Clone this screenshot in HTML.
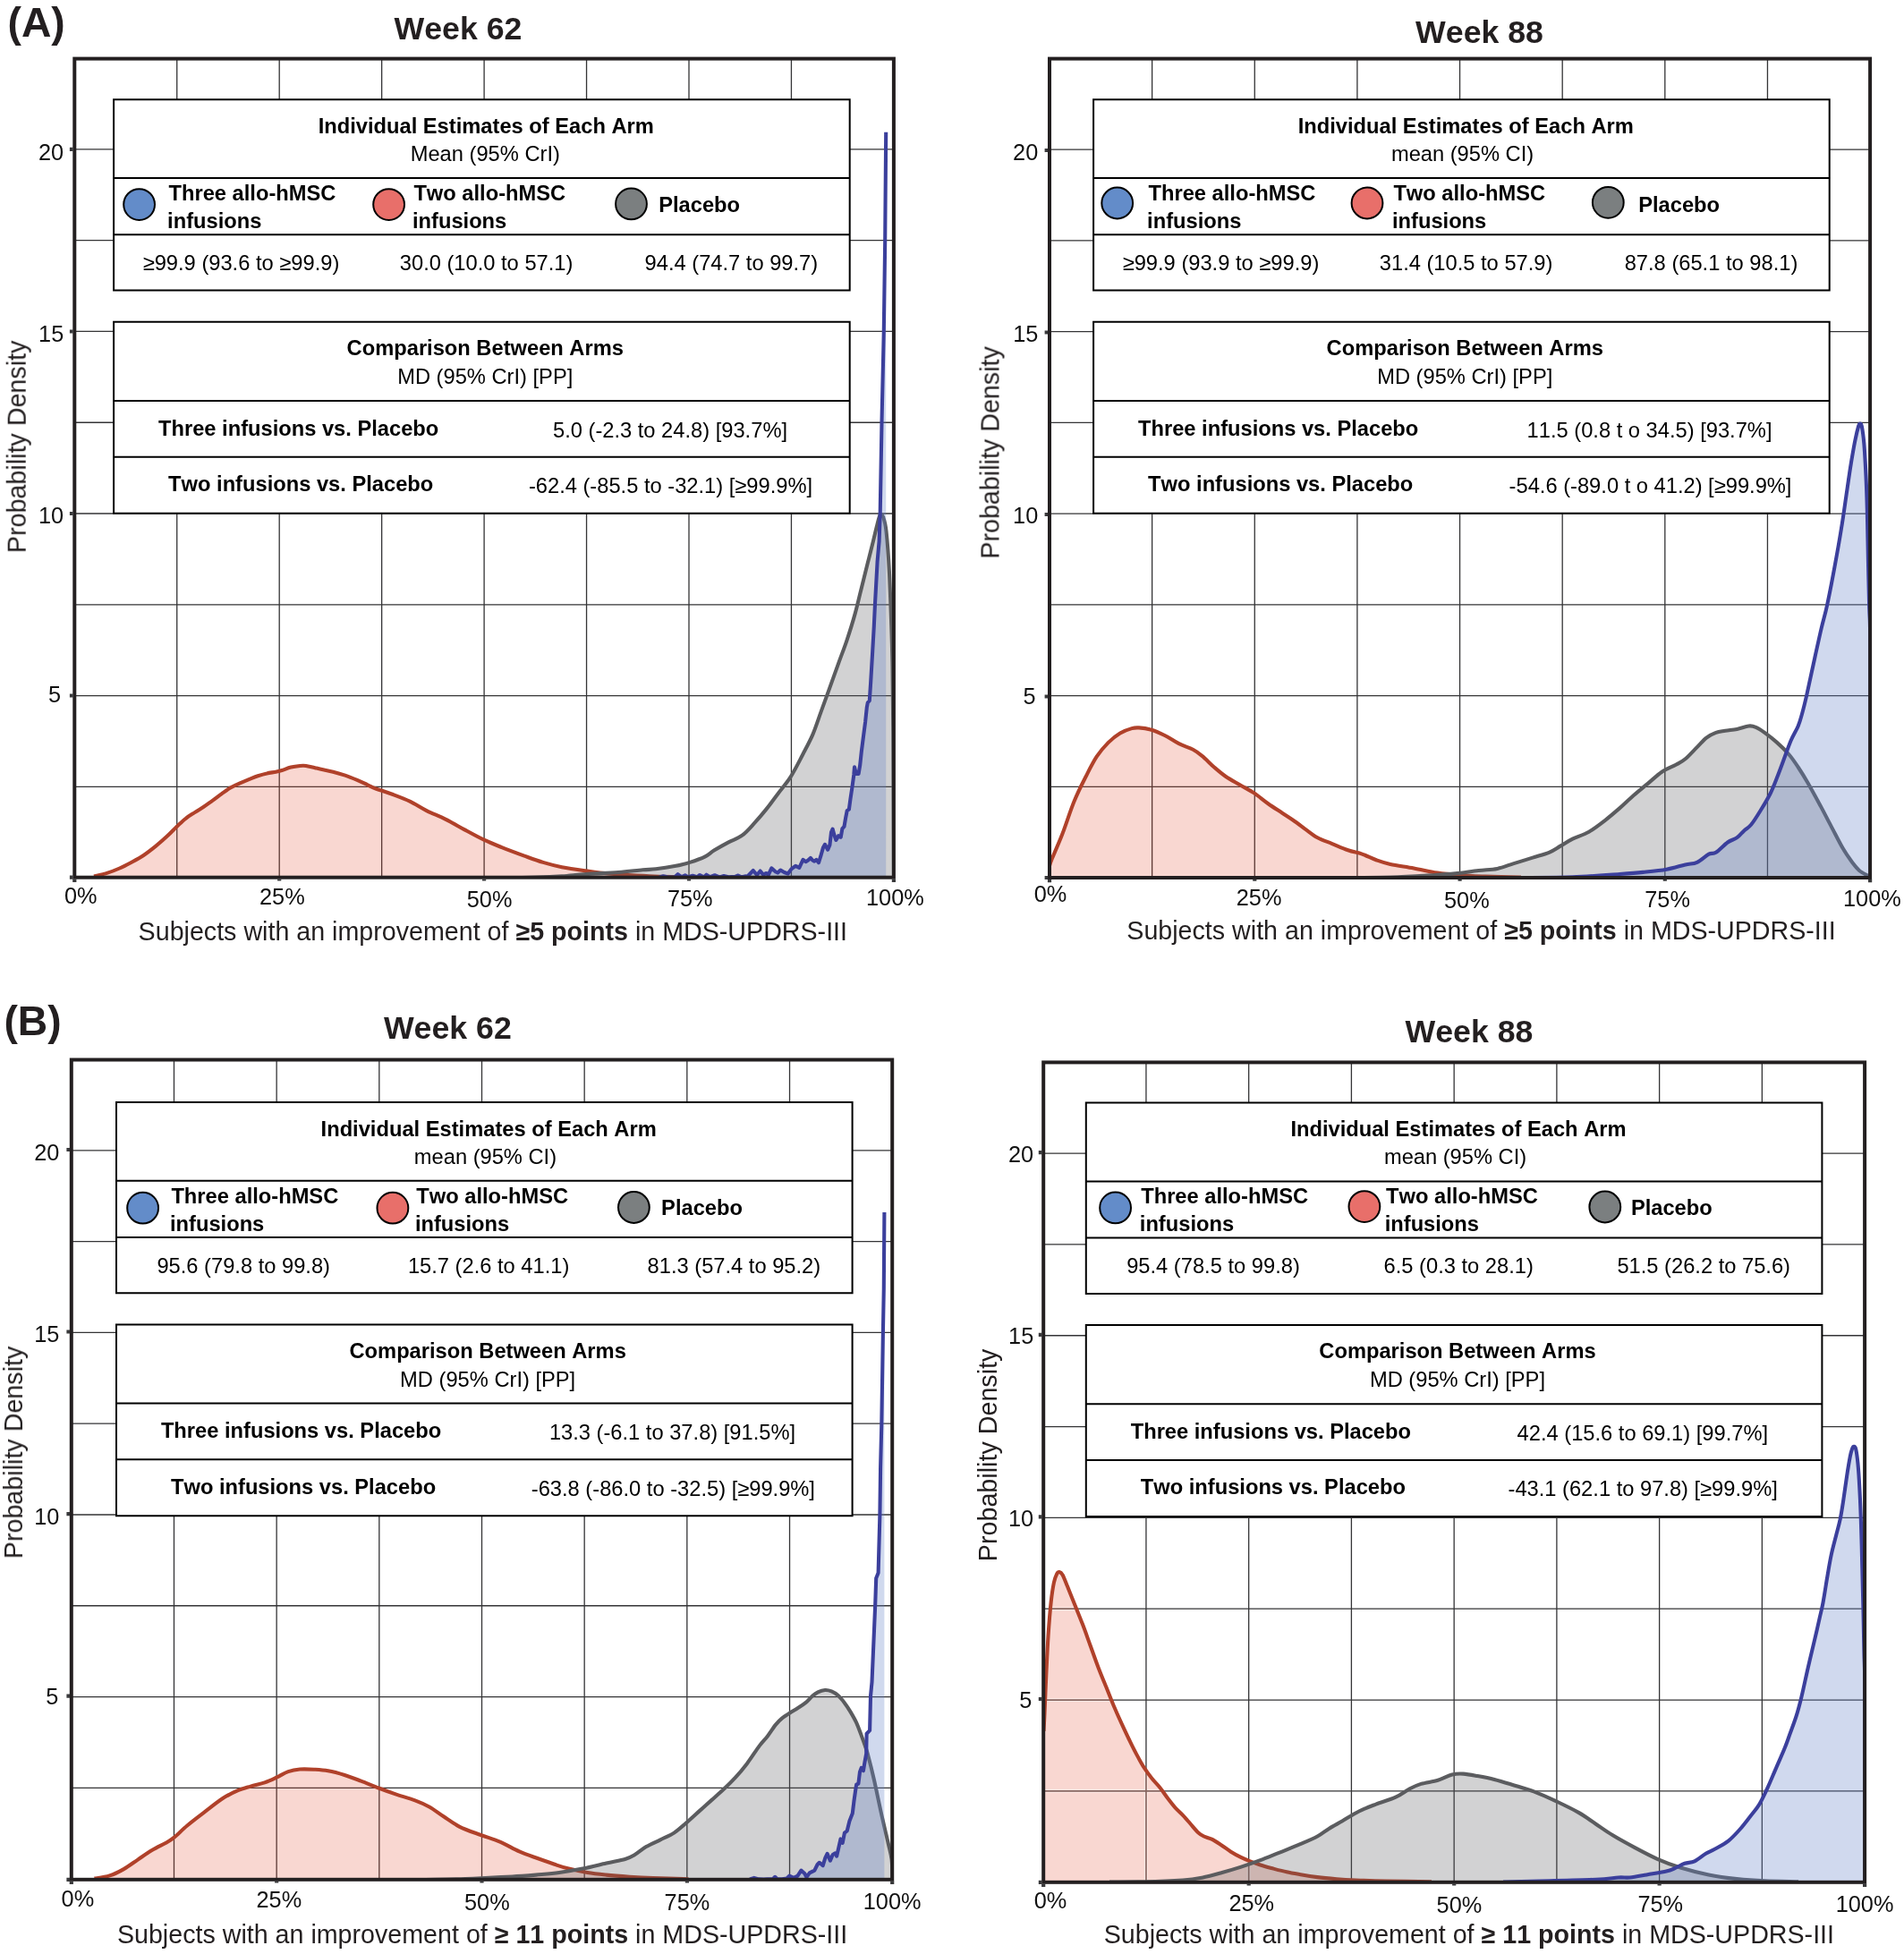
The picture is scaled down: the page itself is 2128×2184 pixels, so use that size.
<!DOCTYPE html>
<html><head><meta charset="utf-8"><title>Figure</title>
<style>html,body{margin:0;padding:0;background:#fff}body{width:2128px;height:2184px;overflow:hidden}svg{display:block}text{font-family:"Liberation Sans",sans-serif;white-space:pre;font-kerning:none}.b{font-weight:700}</style>
</head><body>
<svg width="2128" height="2184" viewBox="0 0 2128 2184">
<rect width="2128" height="2184" fill="#fff"/>
<g>
<clipPath id="cAL"><rect x="83.3" y="65.6" width="915.6" height="915.1"/></clipPath>
<path d="M197.75,65.6V980.7M312.20,65.6V980.7M426.65,65.6V980.7M541.10,65.6V980.7M655.55,65.6V980.7M770.00,65.6V980.7M884.45,65.6V980.7M83.3,879.33H998.9M83.3,777.55H998.9M83.3,675.78H998.9M83.3,574.00H998.9M83.3,472.23H998.9M83.3,370.45H998.9M83.3,268.67H998.9M83.3,166.90H998.9" stroke="#343436" stroke-width="1.3" fill="none"/>
<g clip-path="url(#cAL)" stroke-width="4.1" stroke-linejoin="round" stroke-linecap="butt">
<path d="M105.0,979.4C107.5,978.8 115.4,977.1 120.2,975.6C125.0,974.1 129.1,972.5 133.6,970.5C138.1,968.5 142.6,966.1 147.1,963.7C151.6,961.3 156.0,959.0 160.5,956.0C165.0,953.0 169.4,949.5 173.9,945.9C178.4,942.2 183.5,937.8 187.4,934.1C191.3,930.5 194.1,927.2 197.5,924.0C200.9,920.8 204.2,917.4 207.6,914.8C210.9,912.1 214.2,910.3 217.6,908.1C220.9,905.9 224.3,904.0 227.7,901.8C231.1,899.5 234.4,897.0 237.8,894.6C241.2,892.2 244.5,889.5 247.9,887.1C251.3,884.7 254.6,882.3 258.0,880.3C261.4,878.3 264.7,876.8 268.1,875.3C271.5,873.8 274.9,872.5 278.2,871.1C281.5,869.8 284.8,868.3 288.2,867.2C291.6,866.1 294.9,865.1 298.3,864.4C301.7,863.6 305.6,863.3 308.4,862.7C311.2,862.1 312.3,861.9 315.1,861.0C317.9,860.1 321.8,858.4 325.2,857.6C328.6,856.8 332.5,856.3 335.3,856.0C338.1,855.7 339.2,855.6 342.0,856.0C344.8,856.4 348.7,857.5 352.1,858.2C355.5,859.0 358.8,859.8 362.2,860.5C365.6,861.2 368.4,861.7 372.3,862.7C376.2,863.7 381.2,865.1 385.7,866.6C390.2,868.1 395.0,870.1 399.2,871.9C403.4,873.7 407.4,875.7 410.9,877.3C414.4,878.9 415.6,879.9 420.0,881.5C424.4,883.1 430.7,884.9 437.0,887.2C443.3,889.6 451.4,892.5 458.0,895.6C464.6,898.8 470.2,902.8 476.8,906.1C483.4,909.4 490.8,912.1 497.8,915.6C504.8,919.1 511.6,923.2 518.8,927.1C526.0,931.0 533.9,935.4 540.9,938.7C547.9,942.0 553.3,944.1 560.8,947.1C568.3,950.1 578.3,953.8 586.0,956.6C593.7,959.4 600.0,961.8 607.0,963.9C614.0,966.0 619.9,967.6 628.0,969.2C636.1,970.8 646.6,972.2 655.4,973.4C664.2,974.6 671.2,975.6 680.6,976.5C690.0,977.4 702.6,978.1 712.0,978.6C721.4,979.1 727.3,979.4 737.0,979.7C746.7,980.0 764.5,980.4 770.0,980.5 L770.0,980.7 L105.0,980.7 Z" fill="rgba(228,72,44,0.22)" stroke="none"/>
<path d="M105.0,979.4C107.5,978.8 115.4,977.1 120.2,975.6C125.0,974.1 129.1,972.5 133.6,970.5C138.1,968.5 142.6,966.1 147.1,963.7C151.6,961.3 156.0,959.0 160.5,956.0C165.0,953.0 169.4,949.5 173.9,945.9C178.4,942.2 183.5,937.8 187.4,934.1C191.3,930.5 194.1,927.2 197.5,924.0C200.9,920.8 204.2,917.4 207.6,914.8C210.9,912.1 214.2,910.3 217.6,908.1C220.9,905.9 224.3,904.0 227.7,901.8C231.1,899.5 234.4,897.0 237.8,894.6C241.2,892.2 244.5,889.5 247.9,887.1C251.3,884.7 254.6,882.3 258.0,880.3C261.4,878.3 264.7,876.8 268.1,875.3C271.5,873.8 274.9,872.5 278.2,871.1C281.5,869.8 284.8,868.3 288.2,867.2C291.6,866.1 294.9,865.1 298.3,864.4C301.7,863.6 305.6,863.3 308.4,862.7C311.2,862.1 312.3,861.9 315.1,861.0C317.9,860.1 321.8,858.4 325.2,857.6C328.6,856.8 332.5,856.3 335.3,856.0C338.1,855.7 339.2,855.6 342.0,856.0C344.8,856.4 348.7,857.5 352.1,858.2C355.5,859.0 358.8,859.8 362.2,860.5C365.6,861.2 368.4,861.7 372.3,862.7C376.2,863.7 381.2,865.1 385.7,866.6C390.2,868.1 395.0,870.1 399.2,871.9C403.4,873.7 407.4,875.7 410.9,877.3C414.4,878.9 415.6,879.9 420.0,881.5C424.4,883.1 430.7,884.9 437.0,887.2C443.3,889.6 451.4,892.5 458.0,895.6C464.6,898.8 470.2,902.8 476.8,906.1C483.4,909.4 490.8,912.1 497.8,915.6C504.8,919.1 511.6,923.2 518.8,927.1C526.0,931.0 533.9,935.4 540.9,938.7C547.9,942.0 553.3,944.1 560.8,947.1C568.3,950.1 578.3,953.8 586.0,956.6C593.7,959.4 600.0,961.8 607.0,963.9C614.0,966.0 619.9,967.6 628.0,969.2C636.1,970.8 646.6,972.2 655.4,973.4C664.2,974.6 671.2,975.6 680.6,976.5C690.0,977.4 702.6,978.1 712.0,978.6C721.4,979.1 727.3,979.4 737.0,979.7C746.7,980.0 764.5,980.4 770.0,980.5" fill="none" stroke="#b0412a"/>
<path d="M540.0,981.6C544.2,981.5 555.0,981.5 565.0,981.3C575.0,981.1 589.5,980.9 600.0,980.6C610.5,980.3 618.8,979.9 628.0,979.3C637.2,978.7 644.5,977.7 655.0,977.0C665.5,976.3 680.4,975.8 691.0,975.0C701.6,974.2 711.4,972.9 718.4,972.3C725.4,971.7 727.1,972.0 733.0,971.3C738.9,970.6 747.7,969.3 754.0,968.1C760.3,966.9 765.4,965.6 771.0,963.9C776.6,962.1 783.2,959.8 787.7,957.6C792.2,955.4 793.6,953.3 798.0,950.6C802.4,947.9 808.5,944.4 813.8,941.6C819.0,938.8 824.6,937.3 829.5,933.7C834.4,930.1 838.5,925.1 843.0,920.2C847.5,915.3 852.0,910.0 856.5,904.4C861.0,898.8 865.5,892.4 870.0,886.4C874.5,880.4 879.1,875.5 883.6,868.4C888.1,861.3 892.9,851.6 897.0,843.7C901.1,835.8 904.9,829.0 908.3,821.1C911.7,813.2 914.3,804.6 917.3,796.4C920.3,788.1 922.9,781.0 926.3,771.6C929.7,762.2 934.2,749.5 937.6,740.1C941.0,730.7 943.6,724.3 946.6,715.3C949.6,706.3 953.0,695.5 955.6,686.1C958.2,676.7 960.1,668.0 962.4,659.0C964.6,650.0 966.9,641.0 969.1,632.0C971.4,623.0 974.0,612.7 975.9,605.0C977.8,597.3 979.2,590.9 980.5,586.0C981.8,581.1 982.6,576.9 983.7,575.6C984.8,574.3 986.0,575.0 987.1,578.0C988.2,581.0 989.4,583.7 990.5,593.8C991.6,603.9 993.0,621.9 993.9,638.8C994.8,655.7 995.5,678.1 996.1,695.0C996.7,711.9 997.0,719.2 997.4,740.0C997.8,760.8 998.0,779.8 998.3,820.0C998.5,860.2 998.8,954.2 998.9,981.0 L998.9,980.7 L540.0,980.7 Z" fill="rgba(88,89,91,0.27)" stroke="none"/>
<path d="M540.0,981.6C544.2,981.5 555.0,981.5 565.0,981.3C575.0,981.1 589.5,980.9 600.0,980.6C610.5,980.3 618.8,979.9 628.0,979.3C637.2,978.7 644.5,977.7 655.0,977.0C665.5,976.3 680.4,975.8 691.0,975.0C701.6,974.2 711.4,972.9 718.4,972.3C725.4,971.7 727.1,972.0 733.0,971.3C738.9,970.6 747.7,969.3 754.0,968.1C760.3,966.9 765.4,965.6 771.0,963.9C776.6,962.1 783.2,959.8 787.7,957.6C792.2,955.4 793.6,953.3 798.0,950.6C802.4,947.9 808.5,944.4 813.8,941.6C819.0,938.8 824.6,937.3 829.5,933.7C834.4,930.1 838.5,925.1 843.0,920.2C847.5,915.3 852.0,910.0 856.5,904.4C861.0,898.8 865.5,892.4 870.0,886.4C874.5,880.4 879.1,875.5 883.6,868.4C888.1,861.3 892.9,851.6 897.0,843.7C901.1,835.8 904.9,829.0 908.3,821.1C911.7,813.2 914.3,804.6 917.3,796.4C920.3,788.1 922.9,781.0 926.3,771.6C929.7,762.2 934.2,749.5 937.6,740.1C941.0,730.7 943.6,724.3 946.6,715.3C949.6,706.3 953.0,695.5 955.6,686.1C958.2,676.7 960.1,668.0 962.4,659.0C964.6,650.0 966.9,641.0 969.1,632.0C971.4,623.0 974.0,612.7 975.9,605.0C977.8,597.3 979.2,590.9 980.5,586.0C981.8,581.1 982.6,576.9 983.7,575.6C984.8,574.3 986.0,575.0 987.1,578.0C988.2,581.0 989.4,583.7 990.5,593.8C991.6,603.9 993.0,621.9 993.9,638.8C994.8,655.7 995.5,678.1 996.1,695.0C996.7,711.9 997.0,719.2 997.4,740.0C997.8,760.8 998.0,779.8 998.3,820.0C998.5,860.2 998.8,954.2 998.9,981.0" fill="none" stroke="#5b5c5f"/>
<path d="M737.0,980.5L741.3,979.3L745.8,980.3L748.9,980.6L753.9,980.5L757.5,977.2L761.6,980.2L765.7,978.4L769.0,980.3L774.2,978.8L779.0,980.3L782.1,978.0L786.5,980.4L789.5,977.7L793.7,980.2L798.8,978.2L804.1,980.4L809.0,979.1L814.3,980.2L817.5,980.1L821.0,980.1L825.0,978.5L828.7,980.3L832.7,979.4L835.5,979.5L841.8,973.0L846.0,978.0L849.7,973.5L852.9,977.5L856.6,976.0L858.7,978.0L862.3,970.4L867.0,974.5L869.2,975.5L872.3,972.5L876.5,975.0L880.7,976.5L884.4,971.4L889.1,967.8L893.3,969.9L897.5,960.9L900.5,963.2L903.2,961.5L905.9,958.9L908.1,961.5L910.2,962.6L912.4,961.0L915.0,964.2L917.2,957.2L919.9,947.6L922.0,943.8L925.2,949.7L927.4,944.4L929.0,930.4L930.6,926.6L932.2,932.5L934.4,939.0L937.1,934.2L939.7,935.8L941.4,926.1L943.5,923.9L945.1,914.3L946.7,906.2L948.9,904.6L950.5,892.8L952.6,878.8L954.3,865.9L955.0,857.3L956.9,864.9L959.6,864.9L961.2,855.2L962.8,840.2L965.0,823.0L967.1,806.9L968.8,790.7L969.8,785.4L971.8,783.2L973.2,762.0L975.2,728.0L976.8,700.0L978.1,672.6L980.6,627.5L982.6,605.0L983.7,574.0L985.5,472.0L987.8,370.0L989.2,268.9L990.2,147.8 L990.2,980.7 L737.0,980.7 Z" fill="rgba(100,130,200,0.30)" stroke="none"/>
<path d="M737.0,980.5L741.3,979.3L745.8,980.3L748.9,980.6L753.9,980.5L757.5,977.2L761.6,980.2L765.7,978.4L769.0,980.3L774.2,978.8L779.0,980.3L782.1,978.0L786.5,980.4L789.5,977.7L793.7,980.2L798.8,978.2L804.1,980.4L809.0,979.1L814.3,980.2L817.5,980.1L821.0,980.1L825.0,978.5L828.7,980.3L832.7,979.4L835.5,979.5L841.8,973.0L846.0,978.0L849.7,973.5L852.9,977.5L856.6,976.0L858.7,978.0L862.3,970.4L867.0,974.5L869.2,975.5L872.3,972.5L876.5,975.0L880.7,976.5L884.4,971.4L889.1,967.8L893.3,969.9L897.5,960.9L900.5,963.2L903.2,961.5L905.9,958.9L908.1,961.5L910.2,962.6L912.4,961.0L915.0,964.2L917.2,957.2L919.9,947.6L922.0,943.8L925.2,949.7L927.4,944.4L929.0,930.4L930.6,926.6L932.2,932.5L934.4,939.0L937.1,934.2L939.7,935.8L941.4,926.1L943.5,923.9L945.1,914.3L946.7,906.2L948.9,904.6L950.5,892.8L952.6,878.8L954.3,865.9L955.0,857.3L956.9,864.9L959.6,864.9L961.2,855.2L962.8,840.2L965.0,823.0L967.1,806.9L968.8,790.7L969.8,785.4L971.8,783.2L973.2,762.0L975.2,728.0L976.8,700.0L978.1,672.6L980.6,627.5L982.6,605.0L983.7,574.0L985.5,472.0L987.8,370.0L989.2,268.9L990.2,147.8" fill="none" stroke="#3b3f9c"/>
</g>
<g transform="translate(127.1,111.3)">
<rect x="0" y="0" width="822.6" height="462.4" fill="#fff"/>
<path d="M0,0H822.6V213.3H0ZM0,248.5H822.6V462.4H0ZM0,87.8H822.6M0,151H822.6M0,336.6H822.6M0,399.4H822.6" stroke="#000" stroke-width="2" fill="none"/>
<circle cx="28.5" cy="117.3" r="17.4" fill="#638cc9" stroke="#000" stroke-width="2"/>
<circle cx="307.5" cy="117.3" r="17.4" fill="#e86f6a" stroke="#000" stroke-width="2"/>
<circle cx="578.4" cy="116.6" r="17.4" fill="#7b7f80" stroke="#000" stroke-width="2"/>
</g>
<rect x="83.3" y="65.6" width="915.6" height="915.1" fill="none" stroke="#231f20" stroke-width="4"/>
<path fill="#39393b" d="M77.9,978.6h3.6v4.2h-3.6zM77.9,775.4h3.6v4.2h-3.6zM77.9,571.9h3.6v4.2h-3.6zM77.9,368.4h3.6v4.2h-3.6zM77.9,164.8h3.6v4.2h-3.6zM81.2,982.5h4.2v3.4h-4.2zM310.1,982.5h4.2v1.9h-4.2zM539.0,982.5h4.2v1.9h-4.2zM767.9,982.5h4.2v1.9h-4.2zM996.8,982.5h4.2v3.4h-4.2z"/>
</g>
<g>
<clipPath id="cAR"><rect x="1173.0" y="65.6" width="917.1" height="915.4"/></clipPath>
<path d="M1287.64,65.6V981.0M1402.28,65.6V981.0M1516.91,65.6V981.0M1631.55,65.6V981.0M1746.19,65.6V981.0M1860.82,65.6V981.0M1975.46,65.6V981.0M1173.0,879.30H2090.1M1173.0,777.55H2090.1M1173.0,675.80H2090.1M1173.0,574.05H2090.1M1173.0,472.30H2090.1M1173.0,370.55H2090.1M1173.0,268.80H2090.1M1173.0,167.05H2090.1" stroke="#343436" stroke-width="1.3" fill="none"/>
<g clip-path="url(#cAR)" stroke-width="4.1" stroke-linejoin="round" stroke-linecap="butt">
<path d="M1173.0,968.0C1173.4,966.9 1172.8,967.2 1175.2,961.2C1177.6,955.2 1183.1,943.2 1187.3,932.3C1191.5,921.3 1196.2,906.2 1200.6,895.5C1205.0,884.8 1209.4,876.3 1213.6,868.0C1217.8,859.7 1221.5,852.1 1225.7,845.7C1229.9,839.4 1234.4,834.3 1238.8,829.9C1243.2,825.5 1247.5,822.0 1251.9,819.4C1256.3,816.8 1261.5,815.1 1265.0,814.1C1268.5,813.1 1269.4,813.2 1272.9,813.4C1276.4,813.6 1281.2,814.1 1286.0,815.5C1290.8,816.9 1296.5,819.4 1301.8,822.0C1307.1,824.6 1312.3,828.6 1317.6,831.2C1322.8,833.8 1328.9,835.5 1333.3,837.8C1337.7,840.1 1339.8,841.8 1343.8,845.1C1347.8,848.4 1352.6,853.7 1357.0,857.5C1361.4,861.3 1365.3,864.7 1370.1,868.0C1374.9,871.3 1380.5,874.1 1385.8,877.2C1391.0,880.3 1396.3,882.9 1401.6,886.4C1406.8,889.9 1412.0,894.5 1417.3,898.2C1422.5,901.9 1427.8,905.2 1433.1,908.7C1438.4,912.2 1444.5,916.1 1448.9,919.2C1453.3,922.3 1455.5,924.3 1459.4,927.1C1463.3,929.9 1467.7,933.6 1472.5,936.2C1477.3,938.8 1482.6,940.5 1488.3,942.8C1494.0,945.1 1500.9,948.2 1506.6,950.2C1512.3,952.2 1517.1,952.8 1522.4,954.6C1527.7,956.4 1533.0,959.3 1538.2,961.2C1543.5,963.1 1546.9,964.4 1553.9,965.9C1560.9,967.4 1571.5,968.8 1580.2,970.4C1589.0,972.0 1597.7,974.3 1606.4,975.6C1615.2,976.9 1623.8,977.6 1632.7,978.3C1641.6,979.0 1648.8,979.2 1660.0,979.6C1671.2,980.0 1693.3,980.4 1700.0,980.6 L1700.0,981.0 L1173.0,981.0 Z" fill="rgba(228,72,44,0.22)" stroke="none"/>
<path d="M1173.0,968.0C1173.4,966.9 1172.8,967.2 1175.2,961.2C1177.6,955.2 1183.1,943.2 1187.3,932.3C1191.5,921.3 1196.2,906.2 1200.6,895.5C1205.0,884.8 1209.4,876.3 1213.6,868.0C1217.8,859.7 1221.5,852.1 1225.7,845.7C1229.9,839.4 1234.4,834.3 1238.8,829.9C1243.2,825.5 1247.5,822.0 1251.9,819.4C1256.3,816.8 1261.5,815.1 1265.0,814.1C1268.5,813.1 1269.4,813.2 1272.9,813.4C1276.4,813.6 1281.2,814.1 1286.0,815.5C1290.8,816.9 1296.5,819.4 1301.8,822.0C1307.1,824.6 1312.3,828.6 1317.6,831.2C1322.8,833.8 1328.9,835.5 1333.3,837.8C1337.7,840.1 1339.8,841.8 1343.8,845.1C1347.8,848.4 1352.6,853.7 1357.0,857.5C1361.4,861.3 1365.3,864.7 1370.1,868.0C1374.9,871.3 1380.5,874.1 1385.8,877.2C1391.0,880.3 1396.3,882.9 1401.6,886.4C1406.8,889.9 1412.0,894.5 1417.3,898.2C1422.5,901.9 1427.8,905.2 1433.1,908.7C1438.4,912.2 1444.5,916.1 1448.9,919.2C1453.3,922.3 1455.5,924.3 1459.4,927.1C1463.3,929.9 1467.7,933.6 1472.5,936.2C1477.3,938.8 1482.6,940.5 1488.3,942.8C1494.0,945.1 1500.9,948.2 1506.6,950.2C1512.3,952.2 1517.1,952.8 1522.4,954.6C1527.7,956.4 1533.0,959.3 1538.2,961.2C1543.5,963.1 1546.9,964.4 1553.9,965.9C1560.9,967.4 1571.5,968.8 1580.2,970.4C1589.0,972.0 1597.7,974.3 1606.4,975.6C1615.2,976.9 1623.8,977.6 1632.7,978.3C1641.6,979.0 1648.8,979.2 1660.0,979.6C1671.2,980.0 1693.3,980.4 1700.0,980.6" fill="none" stroke="#b0412a"/>
<path d="M1500.0,981.0C1509.0,980.9 1537.3,981.1 1554.0,980.6C1570.7,980.1 1588.0,979.0 1600.0,978.3C1612.0,977.6 1617.5,977.3 1626.3,976.4C1635.0,975.5 1644.6,973.9 1652.5,973.0C1660.4,972.1 1666.9,972.2 1673.5,970.9C1680.1,969.6 1685.3,967.1 1691.9,965.1C1698.5,963.1 1706.3,960.7 1712.9,958.6C1719.5,956.5 1726.0,955.0 1731.3,952.8C1736.5,950.6 1740.0,947.9 1744.4,945.4C1748.8,942.9 1752.3,940.2 1757.6,937.6C1762.8,935.0 1769.8,933.2 1775.9,929.7C1782.0,926.2 1788.6,921.0 1794.3,916.6C1800.0,912.2 1804.8,908.0 1810.1,903.4C1815.3,898.8 1820.5,893.6 1825.8,889.0C1831.0,884.4 1836.3,880.3 1841.6,875.9C1846.9,871.5 1852.2,866.2 1857.4,862.7C1862.7,859.2 1868.7,857.2 1873.1,854.8C1877.5,852.4 1879.7,851.6 1883.6,848.3C1887.5,845.0 1892.8,839.0 1896.7,835.1C1900.6,831.2 1903.7,827.3 1907.2,824.6C1910.7,821.9 1914.3,820.2 1917.8,818.9C1921.3,817.6 1924.4,817.5 1928.3,816.8C1932.2,816.1 1937.0,815.8 1941.4,814.9C1945.8,814.0 1951.0,811.9 1954.5,811.5C1958.0,811.1 1959.3,811.5 1962.4,812.8C1965.5,814.1 1969.0,816.5 1972.9,819.4C1976.8,822.2 1981.6,826.0 1986.0,829.9C1990.4,833.8 1995.2,838.4 1999.2,843.0C2003.2,847.6 2006.2,852.2 2009.7,857.5C2013.2,862.8 2016.3,867.7 2020.2,874.5C2024.1,881.3 2028.9,890.1 2033.3,898.2C2037.7,906.3 2042.0,914.8 2046.4,923.1C2050.8,931.4 2055.7,941.3 2059.6,948.1C2063.5,954.9 2067.0,959.6 2070.1,963.8C2073.2,967.9 2074.9,970.4 2078.0,973.0C2081.1,975.6 2086.7,978.2 2088.4,979.3 L2090.1,981.0 L1500.0,981.0 Z" fill="rgba(88,89,91,0.27)" stroke="none"/>
<path d="M1500.0,981.0C1509.0,980.9 1537.3,981.1 1554.0,980.6C1570.7,980.1 1588.0,979.0 1600.0,978.3C1612.0,977.6 1617.5,977.3 1626.3,976.4C1635.0,975.5 1644.6,973.9 1652.5,973.0C1660.4,972.1 1666.9,972.2 1673.5,970.9C1680.1,969.6 1685.3,967.1 1691.9,965.1C1698.5,963.1 1706.3,960.7 1712.9,958.6C1719.5,956.5 1726.0,955.0 1731.3,952.8C1736.5,950.6 1740.0,947.9 1744.4,945.4C1748.8,942.9 1752.3,940.2 1757.6,937.6C1762.8,935.0 1769.8,933.2 1775.9,929.7C1782.0,926.2 1788.6,921.0 1794.3,916.6C1800.0,912.2 1804.8,908.0 1810.1,903.4C1815.3,898.8 1820.5,893.6 1825.8,889.0C1831.0,884.4 1836.3,880.3 1841.6,875.9C1846.9,871.5 1852.2,866.2 1857.4,862.7C1862.7,859.2 1868.7,857.2 1873.1,854.8C1877.5,852.4 1879.7,851.6 1883.6,848.3C1887.5,845.0 1892.8,839.0 1896.7,835.1C1900.6,831.2 1903.7,827.3 1907.2,824.6C1910.7,821.9 1914.3,820.2 1917.8,818.9C1921.3,817.6 1924.4,817.5 1928.3,816.8C1932.2,816.1 1937.0,815.8 1941.4,814.9C1945.8,814.0 1951.0,811.9 1954.5,811.5C1958.0,811.1 1959.3,811.5 1962.4,812.8C1965.5,814.1 1969.0,816.5 1972.9,819.4C1976.8,822.2 1981.6,826.0 1986.0,829.9C1990.4,833.8 1995.2,838.4 1999.2,843.0C2003.2,847.6 2006.2,852.2 2009.7,857.5C2013.2,862.8 2016.3,867.7 2020.2,874.5C2024.1,881.3 2028.9,890.1 2033.3,898.2C2037.7,906.3 2042.0,914.8 2046.4,923.1C2050.8,931.4 2055.7,941.3 2059.6,948.1C2063.5,954.9 2067.0,959.6 2070.1,963.8C2073.2,967.9 2074.9,970.4 2078.0,973.0C2081.1,975.6 2086.7,978.2 2088.4,979.3" fill="none" stroke="#5b5c5f"/>
<path d="M1700.0,981.0C1709.6,980.9 1739.2,981.1 1757.6,980.4C1775.9,979.7 1797.0,977.9 1810.1,977.0C1823.2,976.1 1827.5,975.8 1836.3,974.9C1845.0,974.0 1854.7,973.1 1862.6,971.7C1870.5,970.3 1877.9,967.7 1883.6,966.4C1889.3,965.1 1892.3,965.8 1896.7,963.8C1901.1,961.8 1906.4,956.4 1909.9,954.6C1913.4,952.8 1914.3,955.0 1917.8,952.8C1921.3,950.6 1927.0,944.3 1930.9,941.5C1934.8,938.7 1938.3,938.4 1941.4,936.2C1944.5,934.0 1946.7,930.8 1949.3,928.4C1951.9,926.0 1954.0,925.5 1957.1,921.8C1960.1,918.1 1964.1,911.7 1967.6,906.0C1971.1,900.3 1975.1,893.8 1978.2,887.7C1981.3,881.6 1983.4,875.9 1986.0,869.3C1988.6,862.7 1991.3,855.3 1993.9,848.3C1996.5,841.3 1999.2,833.4 2001.8,827.3C2004.4,821.2 2007.7,816.4 2009.7,811.5C2011.7,806.6 2012.4,803.7 2014.0,798.0C2015.6,792.3 2016.8,787.6 2019.2,777.1C2021.6,766.6 2025.6,747.3 2028.4,734.7C2031.2,722.1 2033.5,711.4 2035.8,701.6C2038.1,691.8 2039.8,687.2 2042.2,675.8C2044.7,664.4 2047.9,647.5 2050.5,633.4C2053.1,619.3 2055.8,604.2 2057.9,591.0C2060.1,577.8 2061.6,566.5 2063.4,554.2C2065.2,541.9 2067.2,527.8 2068.9,517.4C2070.6,507.0 2072.1,498.5 2073.5,491.6C2074.9,484.7 2076.3,479.2 2077.2,476.2C2078.1,473.2 2078.5,473.4 2079.1,473.5C2079.7,473.6 2080.2,473.2 2080.9,476.8C2081.6,480.4 2082.5,486.1 2083.3,495.3C2084.1,504.5 2084.9,519.8 2085.5,532.1C2086.1,544.4 2086.4,553.5 2086.8,568.9C2087.2,584.2 2087.5,605.8 2087.9,624.2C2088.3,642.6 2088.8,665.7 2089.2,679.5C2089.6,693.3 2089.9,687.0 2090.1,707.1C2090.3,727.2 2090.5,754.4 2090.6,800.0C2090.7,845.6 2090.6,950.8 2090.6,981.0 L2090.1,981.0 L1700.0,981.0 Z" fill="rgba(100,130,200,0.30)" stroke="none"/>
<path d="M1700.0,981.0C1709.6,980.9 1739.2,981.1 1757.6,980.4C1775.9,979.7 1797.0,977.9 1810.1,977.0C1823.2,976.1 1827.5,975.8 1836.3,974.9C1845.0,974.0 1854.7,973.1 1862.6,971.7C1870.5,970.3 1877.9,967.7 1883.6,966.4C1889.3,965.1 1892.3,965.8 1896.7,963.8C1901.1,961.8 1906.4,956.4 1909.9,954.6C1913.4,952.8 1914.3,955.0 1917.8,952.8C1921.3,950.6 1927.0,944.3 1930.9,941.5C1934.8,938.7 1938.3,938.4 1941.4,936.2C1944.5,934.0 1946.7,930.8 1949.3,928.4C1951.9,926.0 1954.0,925.5 1957.1,921.8C1960.1,918.1 1964.1,911.7 1967.6,906.0C1971.1,900.3 1975.1,893.8 1978.2,887.7C1981.3,881.6 1983.4,875.9 1986.0,869.3C1988.6,862.7 1991.3,855.3 1993.9,848.3C1996.5,841.3 1999.2,833.4 2001.8,827.3C2004.4,821.2 2007.7,816.4 2009.7,811.5C2011.7,806.6 2012.4,803.7 2014.0,798.0C2015.6,792.3 2016.8,787.6 2019.2,777.1C2021.6,766.6 2025.6,747.3 2028.4,734.7C2031.2,722.1 2033.5,711.4 2035.8,701.6C2038.1,691.8 2039.8,687.2 2042.2,675.8C2044.7,664.4 2047.9,647.5 2050.5,633.4C2053.1,619.3 2055.8,604.2 2057.9,591.0C2060.1,577.8 2061.6,566.5 2063.4,554.2C2065.2,541.9 2067.2,527.8 2068.9,517.4C2070.6,507.0 2072.1,498.5 2073.5,491.6C2074.9,484.7 2076.3,479.2 2077.2,476.2C2078.1,473.2 2078.5,473.4 2079.1,473.5C2079.7,473.6 2080.2,473.2 2080.9,476.8C2081.6,480.4 2082.5,486.1 2083.3,495.3C2084.1,504.5 2084.9,519.8 2085.5,532.1C2086.1,544.4 2086.4,553.5 2086.8,568.9C2087.2,584.2 2087.5,605.8 2087.9,624.2C2088.3,642.6 2088.8,665.7 2089.2,679.5C2089.6,693.3 2089.9,687.0 2090.1,707.1C2090.3,727.2 2090.5,754.4 2090.6,800.0C2090.7,845.6 2090.6,950.8 2090.6,981.0" fill="none" stroke="#3b3f9c"/>
</g>
<g transform="translate(1222.1,111.3)">
<rect x="0" y="0" width="822.6" height="462.4" fill="#fff"/>
<path d="M0,0H822.6V213.3H0ZM0,248.5H822.6V462.4H0ZM0,87.8H822.6M0,151H822.6M0,336.6H822.6M0,399.4H822.6" stroke="#000" stroke-width="2" fill="none"/>
<circle cx="26.6" cy="115.7" r="17.4" fill="#638cc9" stroke="#000" stroke-width="2"/>
<circle cx="305.9" cy="115.7" r="17.4" fill="#e86f6a" stroke="#000" stroke-width="2"/>
<circle cx="575.2" cy="115.0" r="17.4" fill="#7b7f80" stroke="#000" stroke-width="2"/>
</g>
<rect x="1173.0" y="65.6" width="917.1" height="915.4" fill="none" stroke="#231f20" stroke-width="4"/>
<path fill="#39393b" d="M1167.6,978.9h3.6v4.2h-3.6zM1167.6,776.4h3.6v4.2h-3.6zM1167.6,572.9h3.6v4.2h-3.6zM1167.6,369.4h3.6v4.2h-3.6zM1167.6,165.9h3.6v4.2h-3.6zM1170.9,982.8h4.2v3.4h-4.2zM1400.2,982.8h4.2v1.9h-4.2zM1629.5,982.8h4.2v1.9h-4.2zM1858.7,982.8h4.2v1.9h-4.2zM2088.0,982.8h4.2v3.4h-4.2z"/>
</g>
<g>
<clipPath id="cBL"><rect x="79.8" y="1184.5" width="917.4" height="916.3"/></clipPath>
<path d="M194.48,1184.5V2100.8M309.15,1184.5V2100.8M423.83,1184.5V2100.8M538.50,1184.5V2100.8M653.17,1184.5V2100.8M767.85,1184.5V2100.8M882.53,1184.5V2100.8M79.8,1998.32H997.2M79.8,1896.55H997.2M79.8,1794.77H997.2M79.8,1693.00H997.2M79.8,1591.22H997.2M79.8,1489.45H997.2M79.8,1387.67H997.2M79.8,1285.90H997.2" stroke="#343436" stroke-width="1.3" fill="none"/>
<g clip-path="url(#cBL)" stroke-width="4.1" stroke-linejoin="round" stroke-linecap="butt">
<path d="M105.5,2099.6C108.3,2099.1 117.0,2098.2 122.5,2096.4C128.0,2094.7 133.1,2092.1 138.3,2089.1C143.6,2086.1 148.8,2082.1 154.0,2078.6C159.2,2075.1 164.6,2071.2 169.8,2068.1C175.1,2064.9 181.3,2062.1 185.5,2059.7C189.7,2057.3 190.8,2056.8 194.7,2053.6C198.6,2050.4 203.7,2045.1 209.2,2040.5C214.7,2035.9 221.0,2031.1 227.6,2026.1C234.2,2021.1 242.5,2014.3 248.6,2010.3C254.7,2006.3 259.1,2004.2 264.3,2001.9C269.6,1999.6 274.9,1998.2 280.1,1996.6C285.4,1995.0 291.0,1994.1 295.8,1992.4C300.6,1990.8 304.6,1988.8 309.0,1986.7C313.4,1984.7 317.7,1981.6 322.1,1980.1C326.5,1978.6 330.4,1977.9 335.2,1977.5C340.0,1977.1 345.8,1977.4 351.0,1977.7C356.2,1978.0 361.0,1978.2 366.7,1979.3C372.4,1980.3 379.0,1982.1 385.1,1984.0C391.2,1985.9 397.1,1988.2 403.5,1990.6C409.9,1993.0 416.6,1996.0 423.2,1998.5C429.8,2001.0 436.1,2003.3 442.9,2005.6C449.7,2007.9 457.8,2010.1 463.9,2012.4C470.0,2014.7 474.4,2016.6 479.7,2019.5C484.9,2022.4 489.7,2026.3 495.4,2030.0C501.1,2033.7 506.8,2038.3 513.8,2041.8C520.8,2045.3 529.8,2048.2 537.4,2051.0C545.0,2053.8 552.2,2055.8 559.4,2058.9C566.6,2062.0 573.4,2066.3 580.4,2069.4C587.4,2072.5 594.8,2074.9 601.4,2077.3C608.0,2079.7 614.1,2081.9 619.8,2083.8C625.5,2085.7 629.4,2087.1 635.5,2088.6C641.6,2090.1 649.6,2091.8 656.6,2093.0C663.6,2094.2 669.7,2094.8 677.6,2095.6C685.5,2096.4 695.0,2097.1 703.8,2097.7C712.5,2098.3 719.1,2098.7 730.1,2099.1C741.1,2099.5 762.9,2100.1 769.5,2100.3 L769.5,2100.8 L105.5,2100.8 Z" fill="rgba(228,72,44,0.22)" stroke="none"/>
<path d="M105.5,2099.6C108.3,2099.1 117.0,2098.2 122.5,2096.4C128.0,2094.7 133.1,2092.1 138.3,2089.1C143.6,2086.1 148.8,2082.1 154.0,2078.6C159.2,2075.1 164.6,2071.2 169.8,2068.1C175.1,2064.9 181.3,2062.1 185.5,2059.7C189.7,2057.3 190.8,2056.8 194.7,2053.6C198.6,2050.4 203.7,2045.1 209.2,2040.5C214.7,2035.9 221.0,2031.1 227.6,2026.1C234.2,2021.1 242.5,2014.3 248.6,2010.3C254.7,2006.3 259.1,2004.2 264.3,2001.9C269.6,1999.6 274.9,1998.2 280.1,1996.6C285.4,1995.0 291.0,1994.1 295.8,1992.4C300.6,1990.8 304.6,1988.8 309.0,1986.7C313.4,1984.7 317.7,1981.6 322.1,1980.1C326.5,1978.6 330.4,1977.9 335.2,1977.5C340.0,1977.1 345.8,1977.4 351.0,1977.7C356.2,1978.0 361.0,1978.2 366.7,1979.3C372.4,1980.3 379.0,1982.1 385.1,1984.0C391.2,1985.9 397.1,1988.2 403.5,1990.6C409.9,1993.0 416.6,1996.0 423.2,1998.5C429.8,2001.0 436.1,2003.3 442.9,2005.6C449.7,2007.9 457.8,2010.1 463.9,2012.4C470.0,2014.7 474.4,2016.6 479.7,2019.5C484.9,2022.4 489.7,2026.3 495.4,2030.0C501.1,2033.7 506.8,2038.3 513.8,2041.8C520.8,2045.3 529.8,2048.2 537.4,2051.0C545.0,2053.8 552.2,2055.8 559.4,2058.9C566.6,2062.0 573.4,2066.3 580.4,2069.4C587.4,2072.5 594.8,2074.9 601.4,2077.3C608.0,2079.7 614.1,2081.9 619.8,2083.8C625.5,2085.7 629.4,2087.1 635.5,2088.6C641.6,2090.1 649.6,2091.8 656.6,2093.0C663.6,2094.2 669.7,2094.8 677.6,2095.6C685.5,2096.4 695.0,2097.1 703.8,2097.7C712.5,2098.3 719.1,2098.7 730.1,2099.1C741.1,2099.5 762.9,2100.1 769.5,2100.3" fill="none" stroke="#b0412a"/>
<path d="M470.0,2101.0C478.3,2100.8 507.3,2100.5 520.0,2100.1C532.7,2099.7 537.5,2099.2 546.3,2098.8C555.0,2098.4 563.8,2098.0 572.5,2097.5C581.2,2097.0 590.0,2096.3 598.8,2095.6C607.5,2094.8 616.2,2094.2 625.0,2093.0C633.8,2091.8 642.5,2090.3 651.3,2088.6C660.1,2086.8 669.7,2084.3 677.6,2082.5C685.5,2080.7 693.4,2079.5 698.6,2078.0C703.9,2076.5 705.2,2075.6 709.1,2073.3C713.0,2071.0 717.4,2066.9 722.2,2064.1C727.0,2061.3 732.8,2058.9 738.0,2056.3C743.2,2053.7 748.5,2051.9 753.7,2048.4C759.0,2044.9 764.7,2039.4 769.5,2035.2C774.3,2031.0 778.2,2027.3 782.6,2023.4C787.0,2019.5 791.3,2015.5 795.7,2011.6C800.1,2007.7 804.5,2003.9 808.9,1999.8C813.3,1995.7 817.6,1991.5 822.0,1986.7C826.4,1981.9 830.6,1976.8 835.1,1970.9C839.6,1965.0 845.1,1956.2 848.9,1951.1C852.7,1946.0 854.9,1944.3 857.9,1940.4C860.9,1936.5 864.1,1931.2 866.8,1927.9C869.5,1924.6 871.2,1922.9 873.9,1920.7C876.6,1918.5 879.9,1916.4 882.9,1914.5C885.9,1912.6 888.8,1911.0 891.8,1909.1C894.8,1907.2 898.0,1905.1 900.7,1902.9C903.4,1900.7 905.7,1897.6 907.9,1895.7C910.1,1893.8 911.7,1892.4 914.1,1891.3C916.5,1890.2 919.6,1889.2 922.1,1889.0C924.6,1888.8 926.9,1889.4 929.3,1890.4C931.7,1891.4 934.0,1892.7 936.4,1894.8C938.8,1896.9 941.2,1899.8 943.6,1902.9C946.0,1906.0 948.5,1909.9 950.7,1913.6C952.9,1917.3 955.1,1921.0 957.0,1925.2C958.9,1929.4 960.7,1934.3 962.3,1938.6C963.9,1942.9 965.6,1947.6 966.8,1951.1C968.0,1954.6 967.9,1953.4 969.6,1959.8C971.3,1966.2 974.4,1978.2 976.9,1989.3C979.4,2000.3 982.2,2014.3 984.8,2026.1C987.4,2037.9 990.7,2051.4 992.7,2060.2C994.7,2068.9 995.8,2071.8 996.6,2078.6C997.4,2085.4 997.4,2097.3 997.5,2101.0 L997.5,2100.8 L470.0,2100.8 Z" fill="rgba(88,89,91,0.27)" stroke="none"/>
<path d="M470.0,2101.0C478.3,2100.8 507.3,2100.5 520.0,2100.1C532.7,2099.7 537.5,2099.2 546.3,2098.8C555.0,2098.4 563.8,2098.0 572.5,2097.5C581.2,2097.0 590.0,2096.3 598.8,2095.6C607.5,2094.8 616.2,2094.2 625.0,2093.0C633.8,2091.8 642.5,2090.3 651.3,2088.6C660.1,2086.8 669.7,2084.3 677.6,2082.5C685.5,2080.7 693.4,2079.5 698.6,2078.0C703.9,2076.5 705.2,2075.6 709.1,2073.3C713.0,2071.0 717.4,2066.9 722.2,2064.1C727.0,2061.3 732.8,2058.9 738.0,2056.3C743.2,2053.7 748.5,2051.9 753.7,2048.4C759.0,2044.9 764.7,2039.4 769.5,2035.2C774.3,2031.0 778.2,2027.3 782.6,2023.4C787.0,2019.5 791.3,2015.5 795.7,2011.6C800.1,2007.7 804.5,2003.9 808.9,1999.8C813.3,1995.7 817.6,1991.5 822.0,1986.7C826.4,1981.9 830.6,1976.8 835.1,1970.9C839.6,1965.0 845.1,1956.2 848.9,1951.1C852.7,1946.0 854.9,1944.3 857.9,1940.4C860.9,1936.5 864.1,1931.2 866.8,1927.9C869.5,1924.6 871.2,1922.9 873.9,1920.7C876.6,1918.5 879.9,1916.4 882.9,1914.5C885.9,1912.6 888.8,1911.0 891.8,1909.1C894.8,1907.2 898.0,1905.1 900.7,1902.9C903.4,1900.7 905.7,1897.6 907.9,1895.7C910.1,1893.8 911.7,1892.4 914.1,1891.3C916.5,1890.2 919.6,1889.2 922.1,1889.0C924.6,1888.8 926.9,1889.4 929.3,1890.4C931.7,1891.4 934.0,1892.7 936.4,1894.8C938.8,1896.9 941.2,1899.8 943.6,1902.9C946.0,1906.0 948.5,1909.9 950.7,1913.6C952.9,1917.3 955.1,1921.0 957.0,1925.2C958.9,1929.4 960.7,1934.3 962.3,1938.6C963.9,1942.9 965.6,1947.6 966.8,1951.1C968.0,1954.6 967.9,1953.4 969.6,1959.8C971.3,1966.2 974.4,1978.2 976.9,1989.3C979.4,2000.3 982.2,2014.3 984.8,2026.1C987.4,2037.9 990.7,2051.4 992.7,2060.2C994.7,2068.9 995.8,2071.8 996.6,2078.6C997.4,2085.4 997.4,2097.3 997.5,2101.0" fill="none" stroke="#5b5c5f"/>
<path d="M838.0,2100.4L842.8,2098.9L848.1,2100.4L853.4,2100.5L857.5,2100.3L864.0,2100.0L866.2,2097.8L868.5,2100.0L874.0,2100.2L879.4,2099.5L882.2,2096.7L887.1,2098.9L891.5,2096.7L895.4,2090.6L899.3,2094.0L901.5,2098.2L904.8,2093.4L910.3,2090.6L913.6,2084.0L915.8,2081.8L919.7,2085.1L922.4,2076.3L924.6,2071.9L927.9,2079.6L930.7,2073.0L933.5,2071.3L935.1,2074.7L937.3,2065.3L939.5,2055.4L941.7,2059.8L943.9,2048.7L946.7,2046.5L949.4,2035.5L952.8,2026.7L954.4,2013.4L956.6,1998.0L957.2,1994.7L959.4,1993.6L961.0,1980.4L962.7,1975.9L964.9,1979.2L966.5,1969.3L968.2,1960.0L968.6,1937.7L972.1,1934.1L973.0,1895.7L974.5,1880.1L978.2,1793.6L979.2,1764.1L981.6,1758.0L983.4,1692.8L984.1,1640.0L985.3,1591.8L986.9,1489.8L987.8,1440.0L988.4,1354.9 L988.4,2100.8 L838.0,2100.8 Z" fill="rgba(100,130,200,0.30)" stroke="none"/>
<path d="M838.0,2100.4L842.8,2098.9L848.1,2100.4L853.4,2100.5L857.5,2100.3L864.0,2100.0L866.2,2097.8L868.5,2100.0L874.0,2100.2L879.4,2099.5L882.2,2096.7L887.1,2098.9L891.5,2096.7L895.4,2090.6L899.3,2094.0L901.5,2098.2L904.8,2093.4L910.3,2090.6L913.6,2084.0L915.8,2081.8L919.7,2085.1L922.4,2076.3L924.6,2071.9L927.9,2079.6L930.7,2073.0L933.5,2071.3L935.1,2074.7L937.3,2065.3L939.5,2055.4L941.7,2059.8L943.9,2048.7L946.7,2046.5L949.4,2035.5L952.8,2026.7L954.4,2013.4L956.6,1998.0L957.2,1994.7L959.4,1993.6L961.0,1980.4L962.7,1975.9L964.9,1979.2L966.5,1969.3L968.2,1960.0L968.6,1937.7L972.1,1934.1L973.0,1895.7L974.5,1880.1L978.2,1793.6L979.2,1764.1L981.6,1758.0L983.4,1692.8L984.1,1640.0L985.3,1591.8L986.9,1489.8L987.8,1440.0L988.4,1354.9" fill="none" stroke="#3b3f9c"/>
</g>
<g transform="translate(130.0,1231.9)">
<rect x="0" y="0" width="822.6" height="462.4" fill="#fff"/>
<path d="M0,0H822.6V213.3H0ZM0,248.5H822.6V462.4H0ZM0,87.8H822.6M0,151H822.6M0,336.6H822.6M0,399.4H822.6" stroke="#000" stroke-width="2" fill="none"/>
<circle cx="29.6" cy="118.3" r="17.4" fill="#638cc9" stroke="#000" stroke-width="2"/>
<circle cx="308.9" cy="118.3" r="17.4" fill="#e86f6a" stroke="#000" stroke-width="2"/>
<circle cx="578.4" cy="117.6" r="17.4" fill="#7b7f80" stroke="#000" stroke-width="2"/>
</g>
<rect x="79.8" y="1184.5" width="917.4" height="916.3" fill="none" stroke="#231f20" stroke-width="4"/>
<path fill="#39393b" d="M74.4,2098.7h3.6v4.2h-3.6zM74.4,1893.5h3.6v4.2h-3.6zM74.4,1690.0h3.6v4.2h-3.6zM74.4,1486.4h3.6v4.2h-3.6zM74.4,1282.9h3.6v4.2h-3.6zM77.7,2102.6h4.2v3.4h-4.2zM307.1,2102.6h4.2v1.9h-4.2zM536.4,2102.6h4.2v1.9h-4.2zM765.8,2102.6h4.2v1.9h-4.2zM995.1,2102.6h4.2v3.4h-4.2z"/>
</g>
<g>
<clipPath id="cBR"><rect x="1166.2" y="1187.4" width="917.9" height="916.4"/></clipPath>
<path d="M1280.94,1187.4V2103.8M1395.67,1187.4V2103.8M1510.41,1187.4V2103.8M1625.15,1187.4V2103.8M1739.89,1187.4V2103.8M1854.62,1187.4V2103.8M1969.36,1187.4V2103.8M1166.2,2001.87H2084.1M1166.2,1900.05H2084.1M1166.2,1798.22H2084.1M1166.2,1696.40H2084.1M1166.2,1594.57H2084.1M1166.2,1492.75H2084.1M1166.2,1390.92H2084.1M1166.2,1289.10H2084.1" stroke="#343436" stroke-width="1.3" fill="none"/>
<g clip-path="url(#cBR)" stroke-width="4.1" stroke-linejoin="round" stroke-linecap="butt">
<path d="M1166.5,1935.0C1166.7,1931.7 1167.0,1925.5 1167.5,1915.0C1168.0,1904.5 1168.6,1886.3 1169.3,1872.0C1170.0,1857.7 1170.6,1842.6 1171.5,1829.0C1172.4,1815.4 1173.6,1800.3 1174.7,1790.3C1175.8,1780.3 1176.8,1774.0 1177.9,1768.8C1179.0,1763.6 1180.2,1761.1 1181.2,1759.1C1182.2,1757.1 1182.9,1756.8 1184.0,1757.0C1185.1,1757.2 1186.1,1757.5 1187.6,1760.2C1189.1,1762.9 1190.7,1767.4 1193.0,1773.1C1195.3,1778.8 1198.7,1787.4 1201.6,1794.6C1204.5,1801.8 1207.3,1808.6 1210.2,1816.1C1213.1,1823.6 1215.9,1831.8 1218.8,1839.7C1221.7,1847.6 1224.5,1855.9 1227.4,1863.4C1230.3,1870.9 1233.1,1877.7 1236.0,1884.8C1238.9,1891.9 1241.7,1899.5 1244.6,1906.3C1247.5,1913.1 1250.3,1919.4 1253.2,1925.7C1256.1,1932.0 1258.9,1938.1 1261.8,1944.0C1264.7,1949.9 1267.5,1955.7 1270.4,1961.1C1273.3,1966.5 1276.1,1971.7 1279.0,1976.2C1281.9,1980.7 1284.7,1984.4 1287.6,1988.0C1290.5,1991.6 1293.3,1994.1 1296.2,1997.7C1299.1,2001.3 1301.9,2005.7 1304.8,2009.5C1307.7,2013.3 1310.5,2017.1 1313.4,2020.3C1316.3,2023.5 1319.2,2025.9 1322.0,2028.9C1324.8,2031.9 1327.7,2035.3 1330.5,2038.5C1333.3,2041.7 1336.6,2045.9 1339.1,2048.2C1341.6,2050.5 1343.1,2051.2 1345.6,2052.5C1348.1,2053.8 1351.0,2054.1 1354.2,2055.7C1357.4,2057.3 1361.3,2059.9 1364.9,2062.2C1368.5,2064.5 1372.1,2067.4 1375.7,2069.7C1379.3,2071.9 1382.8,2073.9 1386.4,2075.7C1390.0,2077.5 1393.6,2079.0 1397.2,2080.4C1400.8,2081.8 1404.0,2083.0 1407.9,2084.3C1411.8,2085.6 1415.8,2086.7 1420.8,2088.0C1425.8,2089.3 1432.3,2091.1 1438.0,2092.3C1443.7,2093.6 1449.5,2094.5 1455.2,2095.5C1460.9,2096.5 1466.0,2097.3 1472.4,2098.1C1478.9,2098.9 1486.7,2099.6 1493.9,2100.2C1501.1,2100.8 1506.1,2101.1 1515.4,2101.5C1524.8,2101.9 1535.9,2102.3 1550.0,2102.6C1564.1,2102.9 1591.7,2103.1 1600.0,2103.2 L1600.0,2103.8 L1166.5,2103.8 Z" fill="rgba(228,72,44,0.22)" stroke="none"/>
<clipPath id="hcBR"><path d="M1166.5,1935.0C1166.7,1931.7 1167.0,1925.5 1167.5,1915.0C1168.0,1904.5 1168.6,1886.3 1169.3,1872.0C1170.0,1857.7 1170.6,1842.6 1171.5,1829.0C1172.4,1815.4 1173.6,1800.3 1174.7,1790.3C1175.8,1780.3 1176.8,1774.0 1177.9,1768.8C1179.0,1763.6 1180.2,1761.1 1181.2,1759.1C1182.2,1757.1 1182.9,1756.8 1184.0,1757.0C1185.1,1757.2 1186.1,1757.5 1187.6,1760.2C1189.1,1762.9 1190.7,1767.4 1193.0,1773.1C1195.3,1778.8 1198.7,1787.4 1201.6,1794.6C1204.5,1801.8 1207.3,1808.6 1210.2,1816.1C1213.1,1823.6 1215.9,1831.8 1218.8,1839.7C1221.7,1847.6 1224.5,1855.9 1227.4,1863.4C1230.3,1870.9 1233.1,1877.7 1236.0,1884.8C1238.9,1891.9 1241.7,1899.5 1244.6,1906.3C1247.5,1913.1 1250.3,1919.4 1253.2,1925.7C1256.1,1932.0 1258.9,1938.1 1261.8,1944.0C1264.7,1949.9 1267.5,1955.7 1270.4,1961.1C1273.3,1966.5 1276.1,1971.7 1279.0,1976.2C1281.9,1980.7 1284.7,1984.4 1287.6,1988.0C1290.5,1991.6 1293.3,1994.1 1296.2,1997.7C1299.1,2001.3 1301.9,2005.7 1304.8,2009.5C1307.7,2013.3 1310.5,2017.1 1313.4,2020.3C1316.3,2023.5 1319.2,2025.9 1322.0,2028.9C1324.8,2031.9 1327.7,2035.3 1330.5,2038.5C1333.3,2041.7 1336.6,2045.9 1339.1,2048.2C1341.6,2050.5 1343.1,2051.2 1345.6,2052.5C1348.1,2053.8 1351.0,2054.1 1354.2,2055.7C1357.4,2057.3 1361.3,2059.9 1364.9,2062.2C1368.5,2064.5 1372.1,2067.4 1375.7,2069.7C1379.3,2071.9 1382.8,2073.9 1386.4,2075.7C1390.0,2077.5 1393.6,2079.0 1397.2,2080.4C1400.8,2081.8 1404.0,2083.0 1407.9,2084.3C1411.8,2085.6 1415.8,2086.7 1420.8,2088.0C1425.8,2089.3 1432.3,2091.1 1438.0,2092.3C1443.7,2093.6 1449.5,2094.5 1455.2,2095.5C1460.9,2096.5 1466.0,2097.3 1472.4,2098.1C1478.9,2098.9 1486.7,2099.6 1493.9,2100.2C1501.1,2100.8 1506.1,2101.1 1515.4,2101.5C1524.8,2101.9 1535.9,2102.3 1550.0,2102.6C1564.1,2102.9 1591.7,2103.1 1600.0,2103.2 L1600.0,2103.8 L1166.5,2103.8 Z"/></clipPath>
<g clip-path="url(#hcBR)" fill="none"><path d="M1280.94,1187.4V2103.8M1395.67,1187.4V2103.8M1510.41,1187.4V2103.8M1625.15,1187.4V2103.8M1739.89,1187.4V2103.8M1854.62,1187.4V2103.8M1969.36,1187.4V2103.8M1166.2,2001.87H2084.1M1166.2,1900.05H2084.1M1166.2,1798.22H2084.1M1166.2,1696.40H2084.1M1166.2,1594.57H2084.1M1166.2,1492.75H2084.1M1166.2,1390.92H2084.1M1166.2,1289.10H2084.1" stroke="#fde9e5" stroke-width="4"/><path d="M1280.94,1187.4V2103.8M1395.67,1187.4V2103.8M1510.41,1187.4V2103.8M1625.15,1187.4V2103.8M1739.89,1187.4V2103.8M1854.62,1187.4V2103.8M1969.36,1187.4V2103.8M1166.2,2001.87H2084.1M1166.2,1900.05H2084.1M1166.2,1798.22H2084.1M1166.2,1696.40H2084.1M1166.2,1594.57H2084.1M1166.2,1492.75H2084.1M1166.2,1390.92H2084.1M1166.2,1289.10H2084.1" stroke="#876660" stroke-width="1.7"/></g>
<path d="M1166.5,1935.0C1166.7,1931.7 1167.0,1925.5 1167.5,1915.0C1168.0,1904.5 1168.6,1886.3 1169.3,1872.0C1170.0,1857.7 1170.6,1842.6 1171.5,1829.0C1172.4,1815.4 1173.6,1800.3 1174.7,1790.3C1175.8,1780.3 1176.8,1774.0 1177.9,1768.8C1179.0,1763.6 1180.2,1761.1 1181.2,1759.1C1182.2,1757.1 1182.9,1756.8 1184.0,1757.0C1185.1,1757.2 1186.1,1757.5 1187.6,1760.2C1189.1,1762.9 1190.7,1767.4 1193.0,1773.1C1195.3,1778.8 1198.7,1787.4 1201.6,1794.6C1204.5,1801.8 1207.3,1808.6 1210.2,1816.1C1213.1,1823.6 1215.9,1831.8 1218.8,1839.7C1221.7,1847.6 1224.5,1855.9 1227.4,1863.4C1230.3,1870.9 1233.1,1877.7 1236.0,1884.8C1238.9,1891.9 1241.7,1899.5 1244.6,1906.3C1247.5,1913.1 1250.3,1919.4 1253.2,1925.7C1256.1,1932.0 1258.9,1938.1 1261.8,1944.0C1264.7,1949.9 1267.5,1955.7 1270.4,1961.1C1273.3,1966.5 1276.1,1971.7 1279.0,1976.2C1281.9,1980.7 1284.7,1984.4 1287.6,1988.0C1290.5,1991.6 1293.3,1994.1 1296.2,1997.7C1299.1,2001.3 1301.9,2005.7 1304.8,2009.5C1307.7,2013.3 1310.5,2017.1 1313.4,2020.3C1316.3,2023.5 1319.2,2025.9 1322.0,2028.9C1324.8,2031.9 1327.7,2035.3 1330.5,2038.5C1333.3,2041.7 1336.6,2045.9 1339.1,2048.2C1341.6,2050.5 1343.1,2051.2 1345.6,2052.5C1348.1,2053.8 1351.0,2054.1 1354.2,2055.7C1357.4,2057.3 1361.3,2059.9 1364.9,2062.2C1368.5,2064.5 1372.1,2067.4 1375.7,2069.7C1379.3,2071.9 1382.8,2073.9 1386.4,2075.7C1390.0,2077.5 1393.6,2079.0 1397.2,2080.4C1400.8,2081.8 1404.0,2083.0 1407.9,2084.3C1411.8,2085.6 1415.8,2086.7 1420.8,2088.0C1425.8,2089.3 1432.3,2091.1 1438.0,2092.3C1443.7,2093.6 1449.5,2094.5 1455.2,2095.5C1460.9,2096.5 1466.0,2097.3 1472.4,2098.1C1478.9,2098.9 1486.7,2099.6 1493.9,2100.2C1501.1,2100.8 1506.1,2101.1 1515.4,2101.5C1524.8,2101.9 1535.9,2102.3 1550.0,2102.6C1564.1,2102.9 1591.7,2103.1 1600.0,2103.2" fill="none" stroke="#b0412a"/>
<path d="M1240.0,2103.5C1246.5,2103.4 1265.3,2103.5 1279.0,2103.2C1292.7,2102.9 1311.3,2102.2 1322.0,2101.5C1332.7,2100.8 1336.2,2100.1 1343.4,2098.7C1350.6,2097.3 1357.7,2095.3 1364.9,2093.3C1372.1,2091.3 1379.2,2089.2 1386.4,2086.9C1393.6,2084.6 1400.7,2082.1 1407.9,2079.4C1415.1,2076.7 1422.2,2073.7 1429.4,2070.8C1436.6,2067.9 1443.7,2065.2 1450.9,2062.2C1458.1,2059.1 1466.7,2055.6 1472.4,2052.5C1478.1,2049.4 1480.7,2046.7 1485.3,2043.9C1489.9,2041.1 1494.4,2038.7 1500.0,2035.5C1505.6,2032.3 1512.6,2027.7 1518.9,2024.5C1525.2,2021.3 1531.0,2019.2 1537.8,2016.6C1544.6,2014.0 1553.6,2011.6 1559.9,2008.7C1566.2,2005.8 1570.9,2001.8 1575.6,1999.3C1580.3,1996.8 1583.0,1995.5 1588.2,1993.9C1593.5,1992.3 1601.3,1991.5 1607.1,1989.8C1612.9,1988.1 1618.2,1984.7 1622.9,1983.5C1627.6,1982.3 1630.8,1982.3 1635.5,1982.6C1640.2,1982.9 1645.5,1984.0 1651.3,1985.1C1657.1,1986.1 1663.9,1987.3 1670.2,1988.9C1676.5,1990.5 1681.8,1992.2 1689.1,1994.5C1696.4,1996.8 1705.9,1999.2 1714.3,2002.4C1722.7,2005.6 1731.1,2009.5 1739.5,2013.4C1747.9,2017.4 1757.4,2021.9 1764.7,2026.1C1772.0,2030.3 1777.3,2034.5 1783.6,2038.7C1789.9,2042.9 1795.2,2046.9 1802.5,2051.3C1809.8,2055.8 1819.3,2060.9 1827.7,2065.4C1836.1,2069.9 1844.5,2074.4 1852.9,2078.1C1861.3,2081.8 1868.7,2084.6 1878.2,2087.5C1887.7,2090.4 1899.2,2093.3 1909.7,2095.4C1920.2,2097.5 1930.7,2098.9 1941.2,2100.1C1951.7,2101.2 1961.2,2101.8 1972.7,2102.3C1984.2,2102.8 2003.8,2103.1 2010.0,2103.3 L2010.0,2103.8 L1240.0,2103.8 Z" fill="rgba(88,89,91,0.27)" stroke="none"/>
<path d="M1240.0,2103.5C1246.5,2103.4 1265.3,2103.5 1279.0,2103.2C1292.7,2102.9 1311.3,2102.2 1322.0,2101.5C1332.7,2100.8 1336.2,2100.1 1343.4,2098.7C1350.6,2097.3 1357.7,2095.3 1364.9,2093.3C1372.1,2091.3 1379.2,2089.2 1386.4,2086.9C1393.6,2084.6 1400.7,2082.1 1407.9,2079.4C1415.1,2076.7 1422.2,2073.7 1429.4,2070.8C1436.6,2067.9 1443.7,2065.2 1450.9,2062.2C1458.1,2059.1 1466.7,2055.6 1472.4,2052.5C1478.1,2049.4 1480.7,2046.7 1485.3,2043.9C1489.9,2041.1 1494.4,2038.7 1500.0,2035.5C1505.6,2032.3 1512.6,2027.7 1518.9,2024.5C1525.2,2021.3 1531.0,2019.2 1537.8,2016.6C1544.6,2014.0 1553.6,2011.6 1559.9,2008.7C1566.2,2005.8 1570.9,2001.8 1575.6,1999.3C1580.3,1996.8 1583.0,1995.5 1588.2,1993.9C1593.5,1992.3 1601.3,1991.5 1607.1,1989.8C1612.9,1988.1 1618.2,1984.7 1622.9,1983.5C1627.6,1982.3 1630.8,1982.3 1635.5,1982.6C1640.2,1982.9 1645.5,1984.0 1651.3,1985.1C1657.1,1986.1 1663.9,1987.3 1670.2,1988.9C1676.5,1990.5 1681.8,1992.2 1689.1,1994.5C1696.4,1996.8 1705.9,1999.2 1714.3,2002.4C1722.7,2005.6 1731.1,2009.5 1739.5,2013.4C1747.9,2017.4 1757.4,2021.9 1764.7,2026.1C1772.0,2030.3 1777.3,2034.5 1783.6,2038.7C1789.9,2042.9 1795.2,2046.9 1802.5,2051.3C1809.8,2055.8 1819.3,2060.9 1827.7,2065.4C1836.1,2069.9 1844.5,2074.4 1852.9,2078.1C1861.3,2081.8 1868.7,2084.6 1878.2,2087.5C1887.7,2090.4 1899.2,2093.3 1909.7,2095.4C1920.2,2097.5 1930.7,2098.9 1941.2,2100.1C1951.7,2101.2 1961.2,2101.8 1972.7,2102.3C1984.2,2102.8 2003.8,2103.1 2010.0,2103.3" fill="none" stroke="#5b5c5f"/>
<path d="M1680.0,2103.5C1686.8,2103.3 1703.3,2103.1 1720.6,2102.6C1737.9,2102.1 1768.9,2101.4 1783.6,2100.7C1798.3,2100.0 1802.5,2098.9 1808.8,2098.5C1815.1,2098.1 1816.2,2099.0 1821.4,2098.5C1826.7,2098.0 1833.5,2096.6 1840.3,2095.4C1847.1,2094.2 1857.1,2092.8 1862.4,2091.6C1867.7,2090.4 1868.5,2089.6 1871.9,2088.1C1875.3,2086.6 1879.2,2084.1 1882.9,2082.8C1886.6,2081.5 1890.0,2082.2 1893.9,2080.3C1897.8,2078.5 1902.8,2073.9 1906.5,2071.7C1910.2,2069.5 1911.8,2069.3 1916.0,2067.0C1920.2,2064.7 1927.0,2061.3 1931.7,2057.6C1936.4,2053.9 1940.1,2049.7 1944.3,2045.0C1948.5,2040.3 1953.2,2033.9 1956.9,2029.2C1960.6,2024.5 1963.2,2021.8 1966.4,2016.6C1969.6,2011.3 1972.7,2004.5 1975.8,1997.7C1978.9,1990.9 1982.1,1982.9 1985.3,1975.6C1988.5,1968.2 1992.3,1959.9 1994.8,1953.6C1997.3,1947.3 1998.3,1944.1 2000.5,1938.0C2002.7,1931.9 2005.8,1924.0 2007.9,1917.1C2010.1,1910.2 2011.2,1905.7 2013.4,1896.8C2015.6,1887.9 2018.3,1874.4 2020.8,1863.7C2023.3,1853.0 2026.0,1841.6 2028.2,1832.4C2030.4,1823.2 2032.2,1815.2 2033.7,1808.4C2035.2,1801.6 2036.0,1799.2 2037.4,1791.8C2038.8,1784.4 2040.5,1773.1 2042.0,1764.2C2043.5,1755.3 2044.9,1746.4 2046.6,1738.4C2048.3,1730.4 2050.4,1723.0 2052.1,1716.3C2053.8,1709.5 2055.3,1704.7 2056.7,1697.9C2058.1,1691.2 2059.2,1683.8 2060.4,1675.8C2061.6,1667.8 2062.9,1658.0 2064.1,1650.0C2065.3,1642.0 2066.8,1633.1 2067.8,1627.9C2068.8,1622.7 2069.5,1620.8 2070.2,1618.9C2070.9,1617.1 2071.3,1616.7 2072.0,1616.8C2072.7,1616.9 2073.5,1616.5 2074.2,1619.6C2074.9,1622.7 2075.7,1628.1 2076.4,1635.3C2077.1,1642.5 2077.8,1653.1 2078.3,1662.9C2078.9,1672.7 2079.3,1683.5 2079.7,1694.2C2080.1,1705.0 2080.4,1715.7 2080.7,1727.4C2081.0,1739.1 2081.3,1751.9 2081.6,1764.2C2081.9,1776.5 2082.2,1787.5 2082.5,1801.0C2082.8,1814.5 2083.1,1828.8 2083.4,1845.3C2083.7,1861.8 2084.2,1856.9 2084.4,1900.0C2084.6,1943.1 2084.6,2070.0 2084.6,2104.0 L2084.1,2103.8 L1680.0,2103.8 Z" fill="rgba(100,130,200,0.30)" stroke="none"/>
<path d="M1680.0,2103.5C1686.8,2103.3 1703.3,2103.1 1720.6,2102.6C1737.9,2102.1 1768.9,2101.4 1783.6,2100.7C1798.3,2100.0 1802.5,2098.9 1808.8,2098.5C1815.1,2098.1 1816.2,2099.0 1821.4,2098.5C1826.7,2098.0 1833.5,2096.6 1840.3,2095.4C1847.1,2094.2 1857.1,2092.8 1862.4,2091.6C1867.7,2090.4 1868.5,2089.6 1871.9,2088.1C1875.3,2086.6 1879.2,2084.1 1882.9,2082.8C1886.6,2081.5 1890.0,2082.2 1893.9,2080.3C1897.8,2078.5 1902.8,2073.9 1906.5,2071.7C1910.2,2069.5 1911.8,2069.3 1916.0,2067.0C1920.2,2064.7 1927.0,2061.3 1931.7,2057.6C1936.4,2053.9 1940.1,2049.7 1944.3,2045.0C1948.5,2040.3 1953.2,2033.9 1956.9,2029.2C1960.6,2024.5 1963.2,2021.8 1966.4,2016.6C1969.6,2011.3 1972.7,2004.5 1975.8,1997.7C1978.9,1990.9 1982.1,1982.9 1985.3,1975.6C1988.5,1968.2 1992.3,1959.9 1994.8,1953.6C1997.3,1947.3 1998.3,1944.1 2000.5,1938.0C2002.7,1931.9 2005.8,1924.0 2007.9,1917.1C2010.1,1910.2 2011.2,1905.7 2013.4,1896.8C2015.6,1887.9 2018.3,1874.4 2020.8,1863.7C2023.3,1853.0 2026.0,1841.6 2028.2,1832.4C2030.4,1823.2 2032.2,1815.2 2033.7,1808.4C2035.2,1801.6 2036.0,1799.2 2037.4,1791.8C2038.8,1784.4 2040.5,1773.1 2042.0,1764.2C2043.5,1755.3 2044.9,1746.4 2046.6,1738.4C2048.3,1730.4 2050.4,1723.0 2052.1,1716.3C2053.8,1709.5 2055.3,1704.7 2056.7,1697.9C2058.1,1691.2 2059.2,1683.8 2060.4,1675.8C2061.6,1667.8 2062.9,1658.0 2064.1,1650.0C2065.3,1642.0 2066.8,1633.1 2067.8,1627.9C2068.8,1622.7 2069.5,1620.8 2070.2,1618.9C2070.9,1617.1 2071.3,1616.7 2072.0,1616.8C2072.7,1616.9 2073.5,1616.5 2074.2,1619.6C2074.9,1622.7 2075.7,1628.1 2076.4,1635.3C2077.1,1642.5 2077.8,1653.1 2078.3,1662.9C2078.9,1672.7 2079.3,1683.5 2079.7,1694.2C2080.1,1705.0 2080.4,1715.7 2080.7,1727.4C2081.0,1739.1 2081.3,1751.9 2081.6,1764.2C2081.9,1776.5 2082.2,1787.5 2082.5,1801.0C2082.8,1814.5 2083.1,1828.8 2083.4,1845.3C2083.7,1861.8 2084.2,1856.9 2084.4,1900.0C2084.6,1943.1 2084.6,2070.0 2084.6,2104.0" fill="none" stroke="#3b3f9c"/>
</g>
<g transform="translate(1213.8,1232.6)">
<rect x="0" y="0" width="822.6" height="462.4" fill="#fff"/>
<path d="M0,0H822.6V213.3H0ZM0,248.5H822.6V462.4H0ZM0,87.8H822.6M0,151H822.6M0,336.6H822.6M0,399.4H822.6" stroke="#000" stroke-width="2" fill="none"/>
<circle cx="32.8" cy="117.3" r="17.4" fill="#638cc9" stroke="#000" stroke-width="2"/>
<circle cx="311.1" cy="116.0" r="17.4" fill="#e86f6a" stroke="#000" stroke-width="2"/>
<circle cx="580.0" cy="116.4" r="17.4" fill="#7b7f80" stroke="#000" stroke-width="2"/>
</g>
<rect x="1166.2" y="1187.4" width="917.9" height="916.4" fill="none" stroke="#231f20" stroke-width="4"/>
<path fill="#39393b" d="M1160.8,2101.7h3.6v4.2h-3.6zM1160.8,1896.9h3.6v4.2h-3.6zM1160.8,1693.3h3.6v4.2h-3.6zM1160.8,1489.7h3.6v4.2h-3.6zM1160.8,1286.0h3.6v4.2h-3.6zM1164.1,2105.6h4.2v3.4h-4.2zM1393.6,2105.6h4.2v1.9h-4.2zM1623.1,2105.6h4.2v1.9h-4.2zM1852.5,2105.6h4.2v1.9h-4.2zM2082.0,2105.6h4.2v3.4h-4.2z"/>
</g>
<filter id="tf" filterUnits="userSpaceOnUse" x="0" y="0" width="2128" height="2184"><feOffset dx="0" dy="0"/></filter>
<g filter="url(#tf)">
<g font-size="23.7" fill="#000" transform="translate(127.1,111.8)">
<text class="b" x="228.6" y="37.1">Individual Estimates of Each Arm</text>
<text x="331.6" y="68.3">Mean (95% CrI)</text>
<text class="b" x="61.4" y="112.0">Three allo-hMSC</text>
<text class="b" x="60.0" y="143.2">infusions</text>
<text class="b" x="335.3" y="112.0">Two allo-hMSC</text>
<text class="b" x="333.9" y="143.2">infusions</text>
<text class="b" x="609.1" y="125.2">Placebo</text>
<text x="32.6" y="190.5">≥99.9 (93.6 to ≥99.9)</text>
<text x="319.7" y="190.5">30.0 (10.0 to 57.1)</text>
<text x="593.5" y="190.5">94.4 (74.7 to 99.7)</text>
<text class="b" x="260.5" y="285.4">Comparison Between Arms</text>
<text x="317.1" y="317.0">MD (95% CrI) [PP]</text>
<text class="b" x="49.9" y="374.9">Three infusions vs. Placebo</text>
<text x="490.9" y="376.8">5.0 (-2.3 to 24.8) [93.7%]</text>
<text class="b" x="61.0" y="437.6">Two infusions vs. Placebo</text>
<text x="463.8" y="439.5">-62.4 (-85.5 to -32.1) [≥99.9%]</text>
</g>
<g font-size="25.3" fill="#111">
<text x="43.0" y="178.7">20</text>
<text x="43.1" y="382.2">15</text>
<text x="43.0" y="585.0">10</text>
<text x="54.1" y="784.8">5</text>
<text x="71.9" y="1009.5">0%</text>
<text x="290.0" y="1010.6">25%</text>
<text x="521.8" y="1013.7">50%</text>
<text x="745.9" y="1012.6">75%</text>
<text x="968.0" y="1012.0">100%</text>
</g>
<text font-size="28.7" fill="#231f20" transform="translate(28.7,498.2) rotate(-90)" x="-120.0" y="0">Probability Density</text>
<text font-size="28.65" fill="#231f20" x="154.6" y="1050.8">Subjects with an improvement of <tspan class="b">≥5 points</tspan> in MDS-UPDRS-III</text>
<text class="b" x="440.5" y="43.6" font-size="35.7" fill="#231f20">Week 62</text>
<g font-size="23.7" fill="#000" transform="translate(1222.1,111.8)">
<text class="b" x="228.6" y="37.1">Individual Estimates of Each Arm</text>
<text x="332.8" y="68.3">mean (95% CI)</text>
<text class="b" x="61.4" y="112.0">Three allo-hMSC</text>
<text class="b" x="60.0" y="143.2">infusions</text>
<text class="b" x="335.3" y="112.0">Two allo-hMSC</text>
<text class="b" x="333.9" y="143.2">infusions</text>
<text class="b" x="609.1" y="125.2">Placebo</text>
<text x="32.6" y="190.5">≥99.9 (93.9 to ≥99.9)</text>
<text x="319.7" y="190.5">31.4 (10.5 to 57.9)</text>
<text x="593.6" y="190.5">87.8 (65.1 to 98.1)</text>
<text class="b" x="260.5" y="285.4">Comparison Between Arms</text>
<text x="317.1" y="317.0">MD (95% CrI) [PP]</text>
<text class="b" x="49.9" y="374.9">Three infusions vs. Placebo</text>
<text x="484.5" y="376.8">11.5 (0.8 t o 34.5) [93.7%]</text>
<text class="b" x="61.0" y="437.6">Two infusions vs. Placebo</text>
<text x="464.5" y="439.5">-54.6 (-89.0 t o 41.2) [≥99.9%]</text>
</g>
<g font-size="25.3" fill="#111">
<text x="1132.1" y="179.3">20</text>
<text x="1132.2" y="382.4">15</text>
<text x="1132.1" y="585.2">10</text>
<text x="1143.4" y="787.0">5</text>
<text x="1155.8" y="1008.4">0%</text>
<text x="1381.8" y="1011.8">25%</text>
<text x="1614.0" y="1014.6">50%</text>
<text x="1838.3" y="1014.0">75%</text>
<text x="2060.0" y="1012.5">100%</text>
</g>
<text font-size="28.7" fill="#231f20" transform="translate(1116.5,504.7) rotate(-90)" x="-120.0" y="0">Probability Density</text>
<text font-size="28.65" fill="#231f20" x="1259.3" y="1050.3">Subjects with an improvement of <tspan class="b">≥5 points</tspan> in MDS-UPDRS-III</text>
<text class="b" x="1582.1" y="48.0" font-size="35.7" fill="#231f20">Week 88</text>
<g font-size="23.7" fill="#000" transform="translate(130.0,1232.6)">
<text class="b" x="228.6" y="37.1">Individual Estimates of Each Arm</text>
<text x="332.8" y="68.3">mean (95% CI)</text>
<text class="b" x="61.4" y="112.0">Three allo-hMSC</text>
<text class="b" x="60.0" y="143.2">infusions</text>
<text class="b" x="335.3" y="112.0">Two allo-hMSC</text>
<text class="b" x="333.9" y="143.2">infusions</text>
<text class="b" x="609.1" y="125.2">Placebo</text>
<text x="45.4" y="190.5">95.6 (79.8 to 99.8)</text>
<text x="325.9" y="190.5">15.7 (2.6 to 41.1)</text>
<text x="593.6" y="190.5">81.3 (57.4 to 95.2)</text>
<text class="b" x="260.5" y="285.4">Comparison Between Arms</text>
<text x="317.1" y="317.0">MD (95% CrI) [PP]</text>
<text class="b" x="49.9" y="374.9">Three infusions vs. Placebo</text>
<text x="483.9" y="376.8">13.3 (-6.1 to 37.8) [91.5%]</text>
<text class="b" x="61.0" y="437.6">Two infusions vs. Placebo</text>
<text x="463.8" y="439.5">-63.8 (-86.0 to -32.5) [≥99.9%]</text>
</g>
<g font-size="25.3" fill="#111">
<text x="38.2" y="1296.5">20</text>
<text x="38.3" y="1500.0">15</text>
<text x="38.2" y="1703.5">10</text>
<text x="51.2" y="1905.2">5</text>
<text x="68.6" y="2130.9">0%</text>
<text x="286.5" y="2132.3">25%</text>
<text x="519.0" y="2135.4">50%</text>
<text x="742.6" y="2134.6">75%</text>
<text x="964.8" y="2133.9">100%</text>
</g>
<text font-size="28.7" fill="#231f20" transform="translate(25.0,1622.3) rotate(-90)" x="-120.0" y="0">Probability Density</text>
<text font-size="28.65" fill="#231f20" x="130.9" y="2172.0">Subjects with an improvement of <tspan class="b">≥ 11 points</tspan> in MDS-UPDRS-III</text>
<text class="b" x="428.9" y="1161.2" font-size="35.7" fill="#231f20">Week 62</text>
<g font-size="23.7" fill="#000" transform="translate(1213.8,1232.9)">
<text class="b" x="228.6" y="37.1">Individual Estimates of Each Arm</text>
<text x="333.1" y="68.3">mean (95% CI)</text>
<text class="b" x="61.4" y="112.0">Three allo-hMSC</text>
<text class="b" x="60.0" y="143.2">infusions</text>
<text class="b" x="335.3" y="112.0">Two allo-hMSC</text>
<text class="b" x="333.9" y="143.2">infusions</text>
<text class="b" x="609.1" y="125.2">Placebo</text>
<text x="45.4" y="190.5">95.4 (78.5 to 99.8)</text>
<text x="332.8" y="190.5">6.5 (0.3 to 28.1)</text>
<text x="593.6" y="190.5">51.5 (26.2 to 75.6)</text>
<text class="b" x="260.5" y="285.4">Comparison Between Arms</text>
<text x="317.1" y="317.0">MD (95% CrI) [PP]</text>
<text class="b" x="49.9" y="374.9">Three infusions vs. Placebo</text>
<text x="481.8" y="376.8">42.4 (15.6 to 69.1) [99.7%]</text>
<text class="b" x="61.0" y="437.6">Two infusions vs. Placebo</text>
<text x="471.7" y="439.5">-43.1 (62.1 to 97.8) [≥99.9%]</text>
</g>
<g font-size="25.3" fill="#111">
<text x="1127.0" y="1299.3">20</text>
<text x="1127.1" y="1502.4">15</text>
<text x="1127.0" y="1705.9">10</text>
<text x="1139.3" y="1908.7">5</text>
<text x="1155.7" y="2132.9">0%</text>
<text x="1373.4" y="2135.7">25%</text>
<text x="1605.6" y="2137.7">50%</text>
<text x="1830.4" y="2137.4">75%</text>
<text x="2051.7" y="2136.6">100%</text>
</g>
<text font-size="28.7" fill="#231f20" transform="translate(1113.5,1625.2) rotate(-90)" x="-120.0" y="0">Probability Density</text>
<text font-size="28.65" fill="#231f20" x="1233.7" y="2172.0">Subjects with an improvement of <tspan class="b">≥ 11 points</tspan> in MDS-UPDRS-III</text>
<text class="b" x="1570.5" y="1165.1" font-size="35.7" fill="#231f20">Week 88</text>
<text class="b" x="8.5" y="40.7" font-size="46.3" fill="#231f20">(A)</text>
<text class="b" x="4.4" y="1157.0" font-size="46.3" fill="#231f20">(B)</text>
</g>
</svg></body></html>
